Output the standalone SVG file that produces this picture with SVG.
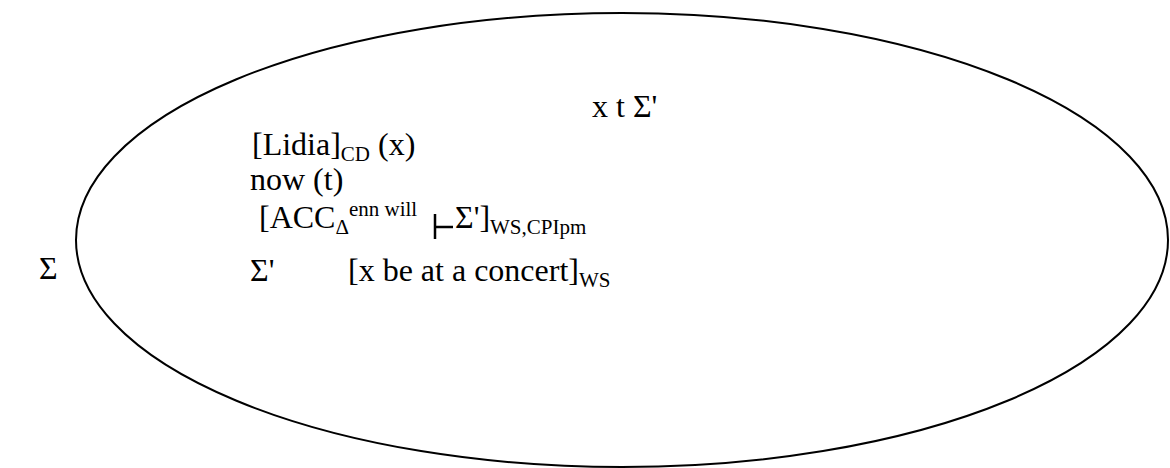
<svg xmlns="http://www.w3.org/2000/svg" width="1170" height="468" viewBox="0 0 1170 468">
<style>
text{font-family:"Liberation Serif","Times New Roman",serif;font-size:32px;fill:#000}
.s{font-size:21px}
</style>
<rect width="1170" height="468" fill="#fff"/>
<g id="outer-label"><text x="39" y="279">Σ</text></g>
<g id="ellipse-node">
<ellipse cx="622" cy="240" rx="546" ry="227" fill="none" stroke="#000" stroke-width="2"/>
<text x="592" y="117">x t Σ'</text>
<text x="252" y="155">[Lidia]<tspan class="s" dy="6">CD</tspan><tspan dy="-6"> (x)</tspan></text>
<text x="250" y="190">now (t)</text>
<text x="259" y="228">[ACC<tspan class="s" dy="6">Δ</tspan><tspan class="s" dy="-18">enn will</tspan></text>
<path d="M435 214 V239 M435 227 H453" fill="none" stroke="#000" stroke-width="2.5"/>
<text x="455" y="228">Σ']<tspan class="s" dy="6">WS,CPIpm</tspan></text>
<text x="250" y="281">Σ'</text>
<text x="348" y="281">[x be at a concert]<tspan class="s" dy="6">WS</tspan></text>
</g>
</svg>
